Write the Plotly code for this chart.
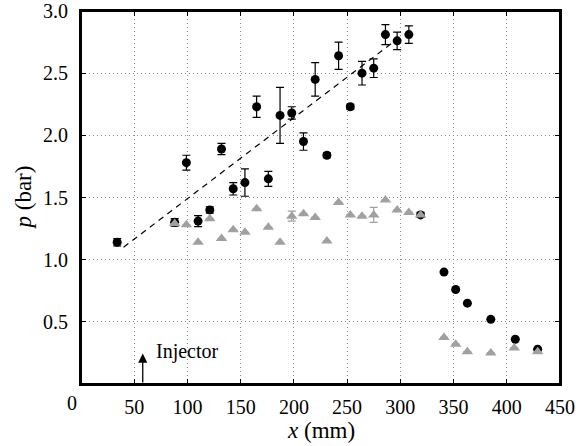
import plotly.graph_objects as go

# Black circles: x (mm), p (bar), error
circ_x = [34, 88, 99, 110, 121, 132, 143, 154, 165, 176, 187, 198, 209, 220, 231, 242,
          253, 264, 275, 286, 297, 308, 319, 341, 352, 363, 385, 408, 429]
circ_p = [1.14, 1.30, 1.78, 1.31, 1.40, 1.89, 1.57, 1.62, 2.23, 1.65, 2.16, 2.18, 1.95, 2.45, 1.84, 2.64,
          2.23, 2.50, 2.54, 2.81, 2.76, 2.81, 1.36, 0.90, 0.76, 0.65, 0.52, 0.36, 0.28]
circ_err = [0.03, 0.03, 0.06, 0.045, 0.025, 0.045, 0.05, 0.11, 0.085, 0.06, 0.225, 0.05, 0.07, 0.135, 0.02, 0.11,
            0.02, 0.095, 0.075, 0.08, 0.07, 0.07, 0.02, 0.0, 0.0, 0.0, 0.0, 0.0, 0.0]

# Gray triangles
tri_x = [88, 99, 110, 121, 132, 143, 154, 165, 176, 187, 198, 209, 220, 231, 242, 253,
         264, 275, 286, 297, 308, 319, 341, 352, 363, 385, 407, 429]
tri_p = [1.29, 1.28, 1.14, 1.33, 1.17, 1.24, 1.22, 1.41, 1.26, 1.14, 1.35, 1.37, 1.34, 1.15, 1.46, 1.36,
         1.35, 1.36, 1.48, 1.40, 1.38, 1.36, 0.375, 0.32, 0.26, 0.25, 0.29, 0.26]
tri_err = [0, 0, 0, 0, 0, 0, 0, 0, 0, 0, 0.04, 0, 0, 0, 0, 0,
           0, 0.06, 0, 0, 0, 0, 0, 0, 0, 0, 0, 0]

# Dashed trend line endpoints
dash_x = [40, 298]
dash_p = [1.10, 2.78]

x_ticks = [50, 100, 150, 200, 250, 300, 350, 400, 450]
y_ticks = [0.5, 1.0, 1.5, 2.0, 2.5, 3.0]
y_ticklabels = ["0.5", "1.0", "1.5", "2.0", "2.5", "3.0"]
x_range = [0, 450]
y_range = [0, 3]

injector_x = 58
injector_top = 0.245

FONT = "Liberation Serif"
TICK_SIZE = 20
TITLE_SIZE = 23

fig = go.Figure()

fig.add_trace(go.Scatter(
    x=dash_x, y=dash_p, mode="lines",
    line=dict(color="black", width=1.2, dash="6px,5px"),
    showlegend=False, hoverinfo="skip"))

fig.add_trace(go.Scatter(
    x=circ_x, y=circ_p, mode="markers",
    marker=dict(symbol="circle", size=9, color="black"),
    error_y=dict(type="data", array=circ_err, visible=True, color="black", thickness=1.2, width=4),
    showlegend=False))

fig.add_trace(go.Scatter(
    x=tri_x, y=tri_p, mode="markers",
    marker=dict(symbol="triangle-up", size=10, color="#a0a0a0"),
    error_y=dict(type="data", array=tri_err, visible=True, color="#a0a0a0", thickness=1.2, width=4),
    showlegend=False))

axis_common = dict(
    showline=True, linecolor="#000000", linewidth=2, mirror="allticks",
    ticks="inside", ticklen=5, tickwidth=1.2, tickcolor="#000000",
    showgrid=True, gridcolor="#8a8a8a", gridwidth=1, griddash="1px,3px",
    zeroline=False, automargin=False,
    tickfont=dict(family=FONT, size=TICK_SIZE, color="black"),
)

fig.update_xaxes(range=x_range, tickvals=x_ticks, ticktext=[str(v) for v in x_ticks],
                 ticklabelstandoff=4, **axis_common)
fig.update_yaxes(range=y_range, tickvals=y_ticks, ticktext=y_ticklabels,
                 ticklabelstandoff=7, **axis_common)

# Frame drawn in data coordinates (backup for the axis lines)
fig.add_shape(type="rect", xref="x", yref="y", x0=x_range[0], y0=y_range[0], x1=x_range[1], y1=y_range[1],
              line=dict(color="black", width=2), fillcolor="rgba(0,0,0,0)", layer="above")

# Axis titles
fig.add_annotation(x=0.5, y=-0.125, xref="paper", yref="paper", text="<i>x</i> (mm)", showarrow=False,
                   xanchor="center", yanchor="middle", font=dict(family=FONT, size=TITLE_SIZE, color="black"))
fig.add_annotation(x=-0.119, y=0.5, xref="paper", yref="paper", text="<i>p</i> (bar)", showarrow=False,
                   textangle=-90, xanchor="center", yanchor="middle",
                   font=dict(family=FONT, size=TITLE_SIZE, color="black"))

# "0" tick label of the x axis (offset left in the original)
fig.add_annotation(x=-0.033, y=0, xref="paper", yref="paper", text="0", showarrow=False,
                   yanchor="top", yshift=-6, font=dict(family=FONT, size=TICK_SIZE, color="black"))

# Injector arrow
fig.add_annotation(x=injector_x, y=injector_top, ax=injector_x, ay=0, xref="x", yref="y",
                   axref="x", ayref="y", text="", showarrow=True, arrowhead=2, arrowsize=1.4,
                   arrowwidth=1.3, arrowcolor="black")
fig.add_annotation(x=injector_x + 10.5, y=injector_top + 0.02, xref="x", yref="y", text="Injector",
                   showarrow=False, xanchor="left", font=dict(family=FONT, size=TICK_SIZE, color="black"))

fig.update_layout(
    width=576, height=446,
    margin=dict(l=81, r=16, t=11, b=62),
    plot_bgcolor="white", paper_bgcolor="white",
    font=dict(family=FONT, color="black"),
)

fig.write_html("out.html", post_script="document.body.style.margin='0';",
               config={"displayModeBar": False})
